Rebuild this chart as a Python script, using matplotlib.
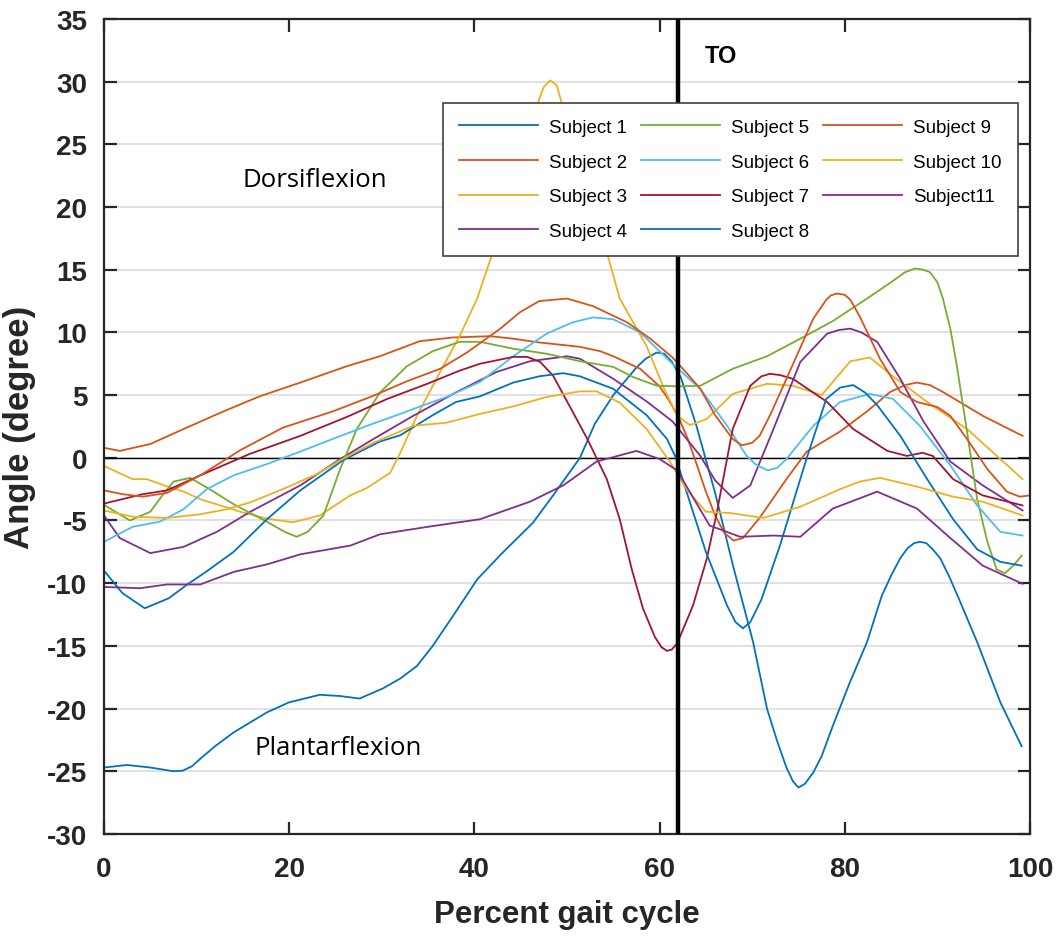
import numpy as np
from matplotlib import pyplot as plt

plt.rcParams['axes.unicode_minus'] = False

# traced angle curves (percent gait cycle, degree)
s1_x = [0, 2.5, 5, 7.5, 8.5, 9.5, 10.4, 12, 14, 17.6, 20, 23.3, 25.5, 27.6, 30.1, 32, 33.8, 35.5, 37.7, 40.3, 43, 46.3, 48.5, 51.4, 53, 55, 57.5, 58.5, 59.7, 60.5, 61.3, 62.3, 63, 64, 66, 68, 70.1, 71.6, 72.7, 73.7, 74.4, 75, 75.7, 76.6, 77.5, 78.7, 80.5, 82.4, 84, 85, 86, 86.8, 87.5, 88.1, 88.8, 89.5, 90.3, 91.3, 92.3, 94.3, 96.8, 99.1]
s1_y = [-24.7, -24.5, -24.7, -25.0, -24.95, -24.6, -24.0, -23.0, -21.9, -20.3, -19.5, -18.9, -19.0, -19.2, -18.4, -17.6, -16.6, -15.0, -12.6, -9.7, -7.6, -5.2, -3.0, 0.0, 2.7, 5.0, 7.2, 7.9, 8.4, 8.3, 7.7, 6.4, 4.8, 2.5, -2.8, -8.8, -14.7, -20.0, -22.6, -24.7, -25.8, -26.3, -26.0, -25.1, -23.8, -21.4, -18.0, -14.7, -11.0, -9.4, -8.0, -7.2, -6.8, -6.7, -6.8, -7.3, -8.0, -9.5, -11.2, -14.7, -19.5, -23.0]

s2_x = [0, 1.7, 5, 8.6, 12.9, 16.8, 21.2, 26.2, 29.8, 34.1, 37.7, 41.7, 44.2, 47, 51.4, 53.6, 55, 57.9, 60, 61, 62, 63, 64, 65, 66, 67, 68, 69, 70.8, 73.7, 75.9, 79.5, 82.4, 84.9, 86.5, 87.8, 89.2, 90.6, 94.9, 99.2]
s2_y = [0.8, 0.55, 1.1, 2.3, 3.7, 4.9, 6.0, 7.3, 8.1, 9.3, 9.6, 9.7, 9.5, 9.2, 8.85, 8.5, 8.1, 7.1, 5.7, 4.6, 3.3, 1.6, -0.5, -2.7, -4.6, -6.0, -6.6, -6.4, -4.8, -1.7, 0.5, 2.1, 3.7, 5.25, 5.8, 6.0, 5.8, 5.25, 3.35, 1.75]

s3_x = [0, 3.1, 4.6, 6.5, 8.6, 10.4, 14.7, 17.6, 20.4, 23.3, 26.6, 28.4, 30.9, 32, 33.8, 36.3, 38.4, 40.3, 42, 44.5, 46.9, 47.5, 48.2, 48.9, 49.4, 52, 54.3, 55.7, 58.6, 60.5, 61.9, 63.3, 65.1, 67.9, 71.6, 74.4, 77.5, 80.6, 82.7, 85.2, 88.9, 93.2, 99.2]
s3_y = [-0.65, -1.7, -1.7, -2.2, -2.7, -3.3, -4.3, -4.85, -5.15, -4.6, -3.0, -2.4, -1.2, 0.4, 3.35, 6.85, 9.7, 12.7, 16.4, 23.0, 28.4, 29.6, 30.1, 29.7, 28.4, 22.0, 16.4, 12.7, 8.9, 5.5, 3.35, 2.6, 3.1, 5.1, 5.9, 5.75, 5.0, 7.7, 8.0, 6.5, 4.45, 2.3, -1.7]

s4_x = [0, 1.7, 5, 8.6, 12.2, 15.8, 21.2, 25.5, 29.1, 33.4, 38.1, 42.4, 46, 50, 51.4, 55, 58.6, 61.4, 64.4, 66, 67.9, 69.8, 72.3, 75.2, 78.1, 79.4, 80.6, 81.8, 83.5, 86, 88.5, 91.4, 94.9, 99.2]
s4_y = [-4.6, -6.4, -7.6, -7.1, -5.9, -4.3, -2.2, -0.1, 1.5, 3.35, 5.25, 6.85, 7.7, 8.1, 7.9, 6.3, 4.5, 2.9, 0.15, -1.8, -3.2, -2.2, 2.3, 7.65, 9.9, 10.2, 10.3, 10.0, 9.25, 6.3, 2.9, -0.3, -2.2, -4.2]

s5_x = [0, 2.8, 5, 6.3, 7.5, 9.3, 11.4, 14, 17.6, 19.5, 20.8, 22, 23.7, 25.5, 27.3, 29.8, 32.7, 35.5, 38.4, 40.6, 44.2, 47.8, 51.4, 55, 57.1, 59.7, 62.2, 64.4, 67.9, 71.6, 75.2, 78.7, 82.4, 85, 86.5, 87.6, 88.5, 89.2, 90, 90.6, 91.4, 92.1, 93.2, 94.3, 95.4, 96.4, 97.3, 98.2, 99.1]
s5_y = [-3.75, -5.0, -4.3, -3.0, -1.9, -1.6, -2.5, -3.7, -5.1, -5.9, -6.3, -5.9, -4.6, -0.9, 2.3, 5.2, 7.3, 8.5, 9.25, 9.25, 8.7, 8.3, 7.7, 7.25, 6.45, 5.75, 5.7, 5.75, 7.1, 8.1, 9.5, 10.9, 12.7, 14.0, 14.8, 15.1, 15.0, 14.8, 14.0, 12.7, 10.3, 7.35, 2.1, -3.3, -6.7, -8.9, -9.2, -8.6, -7.8]

s6_x = [0, 3.1, 6, 8.6, 11.1, 14, 17.6, 21.2, 24.7, 28.4, 32, 33.4, 37, 40.6, 44.2, 47.8, 50.6, 52.8, 55, 57.9, 61.4, 64.4, 67.3, 69.4, 70.5, 71.7, 72.7, 73.7, 76.6, 79.5, 82.7, 85.2, 88.1, 91.4, 94.3, 96.8, 99.2]
s6_y = [-6.7, -5.5, -5.1, -4.1, -2.5, -1.4, -0.5, 0.5, 1.5, 2.55, 3.5, 3.9, 4.85, 6.05, 8.1, 9.9, 10.8, 11.2, 11.05, 10.0, 7.5, 5.5, 2.55, 0.15, -0.6, -1.0, -0.8, -0.1, 2.55, 4.45, 5.1, 4.7, 2.55, -0.6, -3.8, -5.9, -6.2]

s7_x = [0, 4.2, 6.8, 10.4, 15.7, 21.2, 26.2, 30.6, 34.9, 38.4, 40.6, 44.2, 45.7, 47.1, 48.5, 50.3, 52.2, 54.3, 55.7, 57, 58.2, 59.5, 60.2, 60.8, 61.3, 61.9, 63.6, 65.1, 66.2, 67.9, 69.8, 71, 71.9, 73, 74.4, 78.1, 80.9, 84.6, 86.7, 88.4, 89.5, 91.7, 94.9, 99.2]
s7_y = [-3.65, -2.9, -2.6, -1.4, 0.3, 1.75, 3.25, 4.7, 5.9, 6.95, 7.5, 8.05, 8.05, 7.65, 6.55, 4.1, 1.5, -1.7, -4.9, -8.9, -12.0, -14.3, -15.1, -15.4, -15.3, -14.8, -11.8, -8.05, -4.3, 2.3, 5.75, 6.5, 6.7, 6.6, 6.3, 4.45, 2.3, 0.55, 0.15, 0.4, 0.15, -1.7, -3.0, -3.8]

s8_x = [0, 2, 4.4, 7, 9, 11, 14, 17.6, 21.2, 25.8, 29.8, 32, 35.5, 38, 40.6, 44.2, 47, 49.6, 51.4, 55, 58.6, 60.8, 61.7, 63.3, 65, 67.3, 68.2, 69, 69.8, 71, 73, 75.9, 78, 79.5, 80.9, 82.2, 83.5, 86, 88.9, 91.7, 94.3, 96.8, 99.1]
s8_y = [-9.0, -10.8, -12.0, -11.2, -10.1, -9.1, -7.5, -4.9, -2.6, -0.2, 1.3, 1.8, 3.4, 4.45, 4.9, 6.0, 6.5, 6.75, 6.5, 5.5, 3.4, 1.5, 0.1, -3.6, -7.5, -11.8, -13.1, -13.6, -13.1, -11.3, -7.0, 0.0, 4.7, 5.6, 5.8, 5.2, 4.2, 1.75, -1.7, -4.9, -7.3, -8.3, -8.6]

s9_x = [0, 2, 4.2, 6.8, 10.4, 14.7, 19.3, 24.7, 29.1, 32.7, 36.3, 39.2, 42.8, 44.9, 47, 50, 52.8, 56.5, 59, 61.4, 63, 64.4, 66, 67.9, 68.9, 70, 70.8, 72, 73.7, 76.6, 78, 78.5, 79.1, 80, 80.6, 81.6, 83.8, 86, 87.8, 90, 91.4, 93.2, 95.4, 97.5, 98.9, 100]
s9_y = [-2.6, -2.9, -3.1, -2.8, -1.4, 0.6, 2.4, 3.7, 4.95, 6.1, 7.1, 8.4, 10.3, 11.6, 12.5, 12.7, 12.1, 10.8, 9.5, 8.0, 6.7, 5.5, 3.4, 1.5, 1.0, 1.2, 1.75, 3.5, 6.3, 11.1, 12.6, 12.95, 13.1, 13.0, 12.6, 11.3, 7.9, 5.25, 4.45, 4.05, 3.35, 1.5, -0.9, -2.7, -3.1, -3.0]

s10_x = [0, 3.1, 6.8, 10.4, 13.3, 15.8, 19.3, 23, 25.5, 29.1, 33.4, 37, 40.6, 44.2, 47.8, 51.4, 53.2, 55.7, 58.6, 61.1, 63, 65, 67.6, 71.2, 75.2, 79.5, 81.6, 83.8, 87.8, 91.7, 94.9, 99.2]
s10_y = [-4.2, -4.7, -4.8, -4.5, -4.1, -3.55, -2.5, -1.3, -0.2, 1.2, 2.55, 2.8, 3.5, 4.1, 4.85, 5.3, 5.3, 4.4, 2.3, -0.3, -2.6, -4.3, -4.4, -4.8, -3.9, -2.5, -1.9, -1.6, -2.3, -3.1, -3.5, -4.6]

s11_x = [0, 3.9, 6.8, 10.4, 14, 17.6, 21.2, 26.6, 29.8, 35, 40.6, 46, 49.6, 53.2, 57.5, 60, 61.9, 65.4, 68.7, 72.3, 75.2, 78.7, 83.5, 87.8, 91.4, 94.9, 99.2]
s11_y = [-10.3, -10.4, -10.1, -10.1, -9.1, -8.5, -7.7, -7.0, -6.1, -5.5, -4.9, -3.5, -2.2, -0.3, 0.55, -0.1, -1.0, -5.4, -6.3, -6.2, -6.3, -4.05, -2.7, -4.05, -6.4, -8.6, -10.05]

labels = ['Subject 1', 'Subject 2', 'Subject 3', 'Subject 4', 'Subject 5', 'Subject 6',
          'Subject 7', 'Subject 8', 'Subject 9', 'Subject 10', 'Subject11']
colors = ['#0072BD', '#D95319', '#EDB120', '#7E2F8E', '#77AC30', '#4DBEEE',
          '#A2142F', '#0072BD', '#D95319', '#EDB120', '#7E2F8E']
toe_off = 62

xs = [s1_x, s2_x, s3_x, s4_x, s5_x, s6_x, s7_x, s8_x, s9_x, s10_x, s11_x]
ys = [s1_y, s2_y, s3_y, s4_y, s5_y, s6_y, s7_y, s8_y, s9_y, s10_y, s11_y]

tick_font = ['Liberation Sans Narrow', 'Liberation Sans', 'DejaVu Sans']
axis_grey = '#262626'

fig = plt.figure(figsize=(10.58, 9.37), dpi=100)
ax = fig.add_axes([0.0983, 0.1089, 0.8752, 0.8698])

for x, y, lab, c in zip(xs, ys, labels, colors):
    ax.plot(x, y, color=c, lw=1.3, label=lab)

ax.axhline(0, color='black', lw=1.0, zorder=1.5)
ax.axvline(toe_off, color='black', lw=3.2, zorder=3)

ax.set_xlim(0, 100)
ax.set_ylim(-30, 35)
ax.set_xticks(np.arange(0, 101, 20))
ax.set_yticks(np.arange(-30, 36, 5))
ax.yaxis.grid(True, color='#dcdcdc', lw=1.2)
ax.set_axisbelow(True)

for sp in ax.spines.values():
    sp.set_color(axis_grey)
    sp.set_linewidth(1.6)
ax.tick_params(direction='in', length=9, width=1.6, color=axis_grey,
               top=True, right=True, labelcolor=axis_grey)
ax.tick_params(axis='x', pad=16)
ax.tick_params(axis='y', pad=12)
for t in ax.get_xticklabels() + ax.get_yticklabels():
    t.set_family(tick_font)
    t.set_fontweight('bold')
    t.set_fontsize(20)

ax.set_xlabel('Percent gait cycle', family=tick_font, fontweight='bold',
              fontsize=22.5, color=axis_grey, labelpad=12)
ax.set_ylabel('Angle (degree)', family=tick_font, fontweight='bold',
              fontsize=25, color=axis_grey, labelpad=8)

ax.text(64.9, 32.05, 'TO', fontsize=17, fontweight='bold', va='center', ha='left',
        family=['Liberation Sans', 'DejaVu Sans'])
ax.text(15.0, 22.2, 'Dorsiflexion', fontsize=18.5, va='center', ha='left',
        family=['Open Sans', 'DejaVu Sans'])
ax.text(16.2, -23.1, 'Plantarflexion', fontsize=18.5, va='center', ha='left',
        family=['Open Sans', 'DejaVu Sans'])

leg = ax.legend(ncol=3, loc='upper left', bbox_to_anchor=(0.366, 0.897),
                borderaxespad=0, prop={'family': tick_font, 'size': 13.5},
                handlelength=4.2, handletextpad=0.6, columnspacing=0.75,
                labelspacing=0.93, borderpad=0.85, fancybox=False, framealpha=1)
leg.get_frame().set_edgecolor('#404040')
leg.get_frame().set_linewidth(1.2)

plt.savefig('out.png', dpi=100)
